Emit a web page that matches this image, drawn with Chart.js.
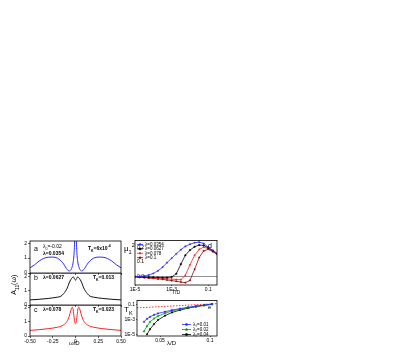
<!DOCTYPE html>
<html><head><meta charset="utf-8">
<script src="https://cdn.jsdelivr.net/npm/chart.js@4/dist/chart.umd.min.js"></script>
<style>
html,body{margin:0;padding:0;background:#fff;width:415px;height:353px;overflow:hidden}
canvas{position:absolute}
.t{position:absolute;font-family:'Liberation Sans',Arial,sans-serif;color:#000;line-height:1;white-space:nowrap}
sub,sup{font-size:70%;line-height:0}
</style></head><body>
<canvas id="ca" width="128" height="40" style="left:0;top:236px"></canvas>
<canvas id="cb" width="128" height="35" style="left:0;top:273px"></canvas>
<canvas id="cc" width="128" height="48" style="left:0;top:305px"></canvas>
<canvas id="cd" width="104" height="60" style="left:120px;top:236px"></canvas>
<canvas id="ce" width="104" height="57" style="left:120px;top:296px"></canvas>

<div class="t" style="left:34px;top:245px;font-size:7px">a</div>
<div class="t" style="left:43px;top:244px;font-size:5px">λ<sub>0</sub>=-0.02</div>
<div class="t" style="left:43px;top:251px;font-size:5px;font-weight:bold">λ=0.0354</div>
<div class="t" style="left:88px;top:246px;font-size:5px;font-weight:bold">T<sub>K</sub>=6x10<sup>-4</sup></div>
<div class="t" style="left:34px;top:274px;font-size:7px">b</div>
<div class="t" style="left:43px;top:275px;font-size:5px;font-weight:bold">λ=0.0627</div>
<div class="t" style="left:93px;top:275px;font-size:5px;font-weight:bold">T<sub>K</sub>=0.013</div>
<div class="t" style="left:34px;top:306px;font-size:7px">c</div>
<div class="t" style="left:43px;top:307px;font-size:5px;font-weight:bold">λ=0.078</div>
<div class="t" style="left:93px;top:307px;font-size:5px;font-weight:bold">T<sub>K</sub>=0.023</div>
<div class="t" style="left:4px;top:281px;font-size:7px;transform:rotate(-90deg);transform-origin:center">A<sub>11</sub>(ω)</div>
<div class="t" style="left:69px;top:340px;font-size:6px">ω/D</div>
<div class="t" style="left:124px;top:245px;font-size:8px">μ<sub>1</sub><sup>2</sup></div>
<div class="t" style="left:208px;top:242px;font-size:7px">d</div>
<div class="t" style="left:172px;top:290px;font-size:5px">T/D</div>
<div class="t" style="left:124px;top:306px;font-size:8px">T<sub>K</sub></div>
<div class="t" style="left:208px;top:304px;font-size:6px">e</div>
<div class="t" style="left:167px;top:340px;font-size:6px">λ/D</div>

<script>
// ---------- data ----------
const omegaA = [-0.5,-0.45,-0.4,-0.35,-0.3,-0.25,-0.2,-0.16,-0.13,-0.11,-0.09,-0.07,-0.055,-0.04,-0.025,-0.015,-0.008,-0.003,0,0.003,0.008,0.015,0.025,0.04,0.055,0.07,0.09,0.11,0.13,0.16,0.2,0.25,0.3,0.35,0.4,0.45,0.5];
const specA  = [0.35,0.55,0.8,0.98,1.06,1.07,1.0,0.82,0.6,0.4,0.22,0.14,0.18,0.35,0.75,1.4,2.5,4.5,6,4.5,2.5,1.4,0.75,0.35,0.18,0.14,0.22,0.4,0.6,0.82,1.0,1.07,1.06,0.98,0.8,0.55,0.35];
const omegaB = [-0.5,-0.4,-0.3,-0.2,-0.16,-0.13,-0.11,-0.09,-0.07,-0.05,-0.035,-0.022,-0.012,0,0.012,0.022,0.035,0.05,0.07,0.09,0.11,0.13,0.16,0.2,0.3,0.4,0.5];
const specB  = [0.36,0.4,0.46,0.55,0.62,0.8,0.97,1.2,1.55,1.8,1.93,1.97,1.85,1.75,1.85,1.97,1.93,1.8,1.55,1.2,0.97,0.8,0.62,0.55,0.46,0.4,0.36];
const omegaC = [-0.5,-0.4,-0.3,-0.2,-0.15,-0.11,-0.08,-0.06,-0.045,-0.035,-0.025,-0.015,-0.007,0,0.007,0.015,0.025,0.035,0.045,0.06,0.08,0.11,0.15,0.2,0.3,0.4,0.5];
const specC  = [0.4,0.45,0.52,0.62,0.72,0.9,1.2,1.6,1.95,2.05,1.85,1.3,0.95,0.88,0.95,1.3,1.85,2.05,1.95,1.6,1.2,0.9,0.72,0.62,0.52,0.45,0.4];
const omegaTicks = [-0.5,-0.25,0,0.25,0.5];
const omegaTickLabels = ["-0.50","-0.25","0","0.25","0.50"];
const specTicks = [0,1,2];

const tempD = [1e-5,1.8e-5,3.2e-5,5.6e-5,1e-4,1.8e-4,3.2e-4,5.6e-4,1e-3,1.8e-3,3.2e-3,5.6e-3,1e-2,1.8e-2,3.2e-2,5.6e-2,0.1,0.18,0.3];
const mu0354 = [0.0,0.002,0.005,0.012,0.022,0.04,0.065,0.095,0.125,0.155,0.183,0.205,0.22,0.23,0.234,0.225,0.2,0.178,0.158];
const mu0627 = [0.0,-0.001,-0.002,-0.003,-0.004,-0.005,-0.006,-0.006,-0.002,0.02,0.085,0.145,0.18,0.203,0.214,0.212,0.195,0.175,0.155];
const mu078  = [0.0,-0.002,-0.004,-0.006,-0.008,-0.01,-0.012,-0.014,-0.016,-0.019,-0.02,0.01,0.08,0.145,0.185,0.2,0.19,0.172,0.155];
const mu1    = [0.0,-0.003,-0.006,-0.009,-0.012,-0.015,-0.018,-0.022,-0.026,-0.031,-0.036,-0.04,-0.025,0.05,0.13,0.175,0.185,0.17,0.152];
const dLabels = ["λ=0.0354","λ=0.0627","λ=0.078","λ=0.1"];
const tempTicks = [1e-5,1e-3,0.1];
const tempTickLabels = ["1E-5","1E-3","0.1"];
const muTicks = [0,0.1,0.2];
const muTickLabels = ["0.0","0.1","0.2"];

const lamE = [0.034,0.037,0.040,0.044,0.048,0.055,0.062,0.070,0.078,0.086,0.094,0.102];
const tk001 = [5.0e-4,1.3e-3,2.4e-3,4.5e-3,7.0e-3,1.2e-2,2.0e-2,3.2e-2,4.8e-2,6.8e-2,9.5e-2,1.3e-1];
const tk002 = [2.5e-5,1.3e-4,5.0e-4,1.4e-3,3.0e-3,7.5e-3,1.5e-2,2.6e-2,4.2e-2,6.3e-2,9.0e-2,1.25e-1];
const tk004 = [null,1.0e-5,5.0e-5,2.5e-4,9.0e-4,3.5e-3,9.5e-3,2.0e-2,3.6e-2,5.8e-2,8.6e-2,1.22e-1];
const lamFit = [0.027,0.05,0.075,0.107];
const tkFit  = [0.04,0.058,0.089,0.15];
const eLabels = ["λ₀=0.01","λ₀=0.02","λ₀=0.04"];
const lamTicks = [0.05,0.1];
const lamTickLabels = ["0.05","0.1"];
const tkTicks = [1e-5,1e-3,0.1];
const tkTickLabels = ["1E-5","1E-3","0.1"];

// ---------- helpers ----------
Chart.defaults.font.family = "'Liberation Sans', Arial, sans-serif";
Chart.defaults.font.size = 5;
Chart.defaults.color = '#000';
const pts = (xs, ys) => xs.map((x,i)=>({x, y: ys[i]}));

const framePlugin = { id:'frame', afterDraw(chart){ const {ctx, chartArea:a} = chart; ctx.save(); ctx.strokeStyle='#000'; ctx.lineWidth=0.8; ctx.strokeRect(a.left, a.top, a.right-a.left, a.bottom-a.top); ctx.restore(); } };
const miniLegend = { id:'miniLegend', afterDraw(chart, args, o){ if(!o || !o.show) return; const {ctx, chartArea:a} = chart; ctx.save(); ctx.font = o.font; ctx.textBaseline='middle'; ctx.fillStyle='#000';
  let k=0;
  chart.data.datasets.forEach(ds=>{ if(ds.noLegend) return; const y = a.top + o.y + k*o.dy; const x0 = a.left + o.x; k++;
    ctx.strokeStyle = ds.borderColor; ctx.lineWidth = ds.borderWidth; ctx.setLineDash(ds.borderDash||[]);
    ctx.beginPath(); ctx.moveTo(x0,y); ctx.lineTo(x0+o.len,y); ctx.stroke(); ctx.setLineDash([]);
    ctx.fillStyle = ds.pointBackgroundColor || ds.borderColor;
    Chart.helpers.drawPoint(ctx, {pointStyle: ds.pointStyle, radius: ds.pointRadius+0.2, borderWidth: 0.5, rotation:0}, x0+o.len/2, y);
    ctx.fillStyle='#000'; ctx.fillText(ds.label, x0+o.len+2, y); });
  ctx.restore(); } };

function fixTicks(vals){ return s => { s.ticks = vals.map(v=>({value:v})); }; }
function fitW(w){ return s => { s.width = w; s.paddingTop = 0; s.paddingBottom = 0; }; }
function fitH(h){ return s => { s.height = h; s.paddingLeft = 0; s.paddingRight = 0; }; }

function specChart(id, xs, ys, color, ymax, padTop, xh, showX){
  new Chart(document.getElementById(id), {
    type:'line',
    data:{ datasets:[{ data: pts(xs, ys), borderColor: color, borderWidth: 1, pointRadius: 0, cubicInterpolationMode:'monotone', fill:false }]},
    options:{ responsive:false, animation:false, devicePixelRatio:1,
      layout:{ padding:{ left:0, top:padTop, right:7, bottom:0 } },
      plugins:{ legend:{display:false}, tooltip:{enabled:false} },
      scales:{
        x:{ type:'linear', min:-0.5, max:0.5, afterBuildTicks: fixTicks(omegaTicks), afterFit: fitH(xh),
            border:{display:false},
            grid:{ display:true, drawOnChartArea:false, drawTicks:true, tickLength:2, color:'#000', lineWidth:0.6 },
            ticks:{ display: showX, padding:1, maxRotation:0, autoSkip:false, callback:(v,i)=>omegaTickLabels[i] } },
        y:{ type:'linear', min:0, max:ymax, afterBuildTicks: fixTicks(specTicks), afterFit: fitW(30),
            border:{display:false},
            grid:{ display:true, drawOnChartArea:false, drawTicks:true, tickLength:2, color:'#000', lineWidth:0.6 },
            ticks:{ padding:1, callback:(v)=>String(v) } }
      }
    },
    plugins:[framePlugin]
  });
}
specChart('ca', omegaA, specA, '#2a2aff', 2.15, 5, 3, false);
specChart('cb', omegaB, specB, '#111111', 2.25, 0, 3, false);
specChart('cc', omegaC, specC, '#ff2020', 2.2, 0, 17, true);

// panel d
new Chart(document.getElementById('cd'), {
  type:'line',
  data:{ datasets:[
    { label:dLabels[0], data: pts(tempD, mu0354), borderColor:'#2a2aff', pointBackgroundColor:'#2a2aff', pointBorderColor:'#2a2aff', pointStyle:'rect', pointRadius:0.8, pointBorderWidth:0.5, borderWidth:0.8 },
    { label:dLabels[1], data: pts(tempD, mu0627), borderColor:'#000000', pointBackgroundColor:'#000000', pointBorderColor:'#000000', pointStyle:'circle', pointRadius:0.8, pointBorderWidth:0.5, borderWidth:0.8 },
    { label:dLabels[2], data: pts(tempD, mu078), borderColor:'#ff2020', pointBackgroundColor:'#ff2020', pointBorderColor:'#ff2020', pointStyle:'triangle', pointRadius:0.9, pointBorderWidth:0.5, borderWidth:0.8 },
    { label:dLabels[3], data: pts(tempD, mu1), borderColor:'#8b0a0a', pointBackgroundColor:'#8b0a0a', pointBorderColor:'#8b0a0a', pointStyle:'rect', pointRadius:0.8, pointBorderWidth:0.5, borderWidth:0.8 }
  ]},
  options:{ responsive:false, animation:false, devicePixelRatio:1,
    layout:{ padding:{ left:0, top:4, right:7, bottom:0 } },
    plugins:{ legend:{display:false}, tooltip:{enabled:false},
      miniLegend:{ show:true, font:"4.5px 'Liberation Sans', Arial, sans-serif", x:2, y:4, dy:4.4, len:6 } },
    scales:{
      x:{ type:'logarithmic', min:1e-5, max:0.3, afterBuildTicks: fixTicks(tempTicks), afterFit: fitH(11),
          border:{display:false},
          grid:{ display:true, drawOnChartArea:false, drawTicks:true, tickLength:1, color:'#000', lineWidth:0.6 },
          ticks:{ padding:1, maxRotation:0, autoSkip:false, callback:(v,i)=>tempTickLabels[i] } },
      y:{ type:'linear', min:-0.056, max:0.245, afterBuildTicks: fixTicks(muTicks), afterFit: fitW(15),
          border:{display:false},
          grid:{ display:true, drawOnChartArea:true, drawTicks:false, color:(c)=> c.tick && c.tick.value===0 ? '#777' : 'rgba(0,0,0,0)', lineWidth:0.8 },
          ticks:{ mirror:true, padding:2, callback:(v,i)=>muTickLabels[i] } }
    }
  },
  plugins:[framePlugin, miniLegend]
});

// panel e
new Chart(document.getElementById('ce'), {
  type:'line',
  data:{ datasets:[
    { label:eLabels[0], data: pts(lamE, tk001), borderColor:'#2a2aff', pointBackgroundColor:'#2a2aff', pointBorderColor:'#2a2aff', pointStyle:'rect', pointRadius:0.9, pointBorderWidth:0.5, borderWidth:0.8 },
    { label:eLabels[1], data: pts(lamE, tk002), borderColor:'#00a000', pointBackgroundColor:'#00a000', pointBorderColor:'#00a000', pointStyle:'triangle', pointRadius:1.1, pointBorderWidth:0.5, borderWidth:0.8 },
    { label:eLabels[2], data: pts(lamE, tk004), borderColor:'#000000', pointBackgroundColor:'#000000', pointBorderColor:'#000000', pointStyle:'rect', pointRadius:0.9, pointBorderWidth:0.5, borderWidth:0.8 },
    { label:'fit', noLegend:true, data: pts(lamFit, tkFit), borderColor:'#ff3030', borderDash:[1.5,1.5], pointRadius:0, borderWidth:1 }
  ]},
  options:{ responsive:false, animation:false, devicePixelRatio:1,
    layout:{ padding:{ left:0, top:4, right:7, bottom:0 } },
    plugins:{ legend:{display:false}, tooltip:{enabled:false},
      miniLegend:{ show:true, font:"4.5px 'Liberation Sans', Arial, sans-serif", x:45, y:24, dy:5, len:9 } },
    scales:{
      x:{ type:'linear', min:0.027, max:0.107, afterBuildTicks: fixTicks(lamTicks), afterFit: fitH(17),
          border:{display:false},
          grid:{ display:true, drawOnChartArea:false, drawTicks:true, tickLength:1, color:'#000', lineWidth:0.6 },
          ticks:{ padding:1, maxRotation:0, autoSkip:false, callback:(v,i)=>lamTickLabels[i] } },
      y:{ type:'logarithmic', min:6e-6, max:0.4, afterBuildTicks: fixTicks(tkTicks), afterFit: fitW(17),
          border:{display:false},
          grid:{ display:true, drawOnChartArea:false, drawTicks:true, tickLength:1, color:'#000', lineWidth:0.6 },
          ticks:{ padding:1, callback:(v,i)=>tkTickLabels[i] } }
    }
  },
  plugins:[framePlugin, miniLegend]
});
</script>
</body></html>
